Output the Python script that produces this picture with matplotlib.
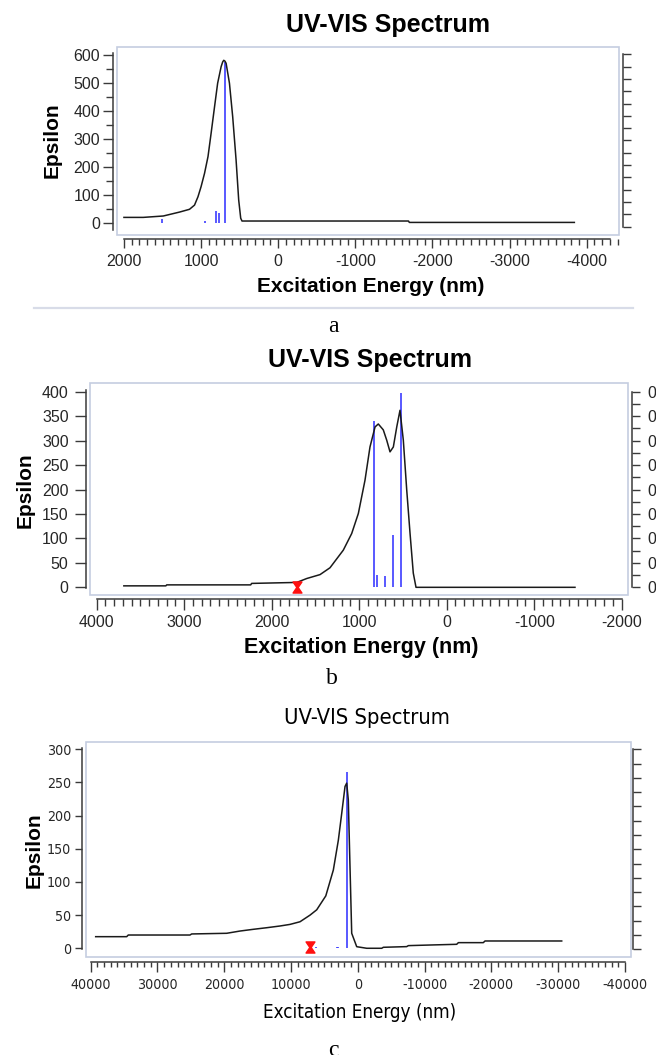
import matplotlib
matplotlib.use("Agg")
import matplotlib.pyplot as plt
import matplotlib.patches
import matplotlib.path
import matplotlib.lines
from matplotlib import font_manager
from matplotlib.ticker import MultipleLocator, NullFormatter, FormatStrFormatter, FixedLocator
import numpy as np

matplotlib.rcParams["axes.unicode_minus"] = False

# Panel a: simulated spectrum and stick transitions
a_nm = [2000, 1750, 1490, 1280, 1150, 1085, 1040, 1000, 955, 910, 870, 825,
        785, 740, 720, 706, 690, 675, 632, 590, 546, 512, 486, 469, -1690,
        -1700, -3840]
a_eps = [19, 19, 24, 38, 48, 63, 93, 129, 177, 237, 320, 416,
         500, 559, 576, 582, 579, 571, 500, 380, 225, 81, 16, 6, 6,
         1, 1]
a_stick_nm = [1505, 950, 804, 770, 692]
a_stick_eps = [15, 5, 42, 34, 577]

# Panel b
b_nm = [3690, 3210, 3200, 2240, 2230, 1714, 1600, 1448, 1334, 1296, 1182,
        1086, 1010, 934, 877, 819, 782, 725, 686, 648, 610, 571, 534, 496,
        457, 419, 382, 351, -1466]
b_eps = [3, 3, 5, 5, 8, 10, 18, 26, 40, 49, 76,
         110, 151, 219, 287, 328, 334, 322, 301, 277, 287, 328, 362, 301,
         199, 110, 29, 0, 0]
b_stick_nm = [827, 793, 705, 614, 522]
b_stick_eps = [341, 25, 23, 108, 398]
b_marker = (1714, 1)

# Panel c
c_nm = [39250, 34610, 34370, 25130, 24880, 19640, 17640, 15650, 13650,
        11660, 10160, 8660, 7160, 6160, 4800, 3670, 2920, 2420, 1920, 1670,
        1430, 1175, 920, 170, -1330, -3570, -3820, -7310, -7560, -11060,
        -14800, -15050, -18780, -19040, -30520]
c_eps = [17.5, 17.5, 20, 20, 21.6, 22.6, 26, 28.6, 31,
         33.6, 36, 40, 50, 58, 79, 118, 163, 203, 244, 249,
         224, 123, 22.6, 2.4, 0, 0, 1.5, 2.5, 4, 5,
         6, 8.5, 8.5, 11, 11]
c_stick_nm = [6270, 3070, 2920, 1670]
c_stick_eps = [1.5, 2, 2, 266]
c_marker = (7160, 1.7)

W, H = 656, 1055
BOX = "#c5cde0"
AXC = "#3a3a3a"
TXT = "#262626"
BLUE = "#3c3cff"
CURVE = "#1a1a1a"

# find a narrow face for panel c (Arial Narrow look-alike)
narrow_path = None
for key in ["LiberationSansNarrow-Regular", "DejaVuSansCondensed.ttf",
            "RobotoCondensed-Regular", "Narrow", "Condensed"]:
    for f in font_manager.fontManager.ttflist:
        fn = f.fname.split("/")[-1]
        if key in fn and "Bold" not in fn and "Italic" not in fn and "Oblique" not in fn:
            narrow_path = f.fname
            break
    if narrow_path:
        break
# DejaVu condensed is still wider than Arial Narrow, so shrink a little
NARROW_SCALE = 1.0 if (narrow_path and "Liberation" in narrow_path) else 0.9


def narrow(size):
    if narrow_path:
        return font_manager.FontProperties(fname=narrow_path, size=size * NARROW_SCALE)
    return font_manager.FontProperties(family="Liberation Sans", size=size * 0.8)


SANS = "Liberation Sans"
SERIF = "Liberation Serif"

# hourglass marker
hourglass = matplotlib.path.Path(
    [(-0.8, 1), (0.8, 1), (0.12, 0), (0.8, -1), (-0.8, -1), (-0.12, 0), (-0.8, 1)],
    [1, 2, 2, 2, 2, 2, 79])

fig = plt.figure(figsize=(W / 100, H / 100), dpi=100)


def px_axes(l, t, r, b):
    return fig.add_axes([l / W, 1 - b / H, (r - l) / W, (b - t) / H])


def fig_text(x, y, s, **kw):
    fig.text(x / W, 1 - y / H, s, ha="center", va="center", color="black", **kw)


def frame(ax, xlim, ylim, rlim, out, bounds):
    ax.set_xlim(*xlim)
    ax.set_ylim(*ylim)
    for side in ["top", "right"]:
        ax.spines[side].set_visible(False)
    ax.spines["left"].set_position(("outward", out[0]))
    ax.spines["bottom"].set_position(("outward", out[1]))
    ax.spines["left"].set_bounds(*bounds[0])
    ax.spines["bottom"].set_bounds(*bounds[1])
    for side in ["left", "bottom"]:
        ax.spines[side].set_color(AXC)
        ax.spines[side].set_linewidth(1.1)
    ax.add_patch(matplotlib.patches.Rectangle(
        (0, 0), 1, 1, transform=ax.transAxes, fill=False, ec=BOX, lw=1.2,
        clip_on=False, zorder=0.5))
    ax2 = ax.twinx()
    ax2.set_ylim(*rlim)
    for side in ["top", "left", "bottom"]:
        ax2.spines[side].set_visible(False)
    ax2.spines["right"].set_position(("outward", out[2]))
    ax2.spines["right"].set_bounds(*bounds[2])
    ax2.spines["right"].set_color(AXC)
    ax2.spines["right"].set_linewidth(1.1)
    return ax2


def draw(ax, nm, eps, snm, seps, marker=None):
    ax.vlines(snm, 0, seps, color=BLUE, lw=1.2, zorder=2)
    ax.plot(nm, eps, color=CURVE, lw=1.1, zorder=3)
    if marker is not None:
        ax.plot([marker[0]], [marker[1]], marker=hourglass, ms=8,
                color="#ff1010", ls="none", zorder=4)


# ---------------- panel a ----------------
ax = px_axes(117, 47, 619, 235)
ax2 = frame(ax, (2090, -4419), (-44.1, 629.7), (-0.0337, 0.7296),
            (2.9, 2.9, 2.9), ((-26, 607), (2000, -4300), (0, 0.7)))
draw(ax, a_nm, a_eps, a_stick_nm, a_stick_eps)
ax.xaxis.set_major_locator(MultipleLocator(1000))
ax.xaxis.set_minor_locator(MultipleLocator(100))
ax.yaxis.set_major_locator(FixedLocator([0, 100, 200, 300, 400, 500, 600]))
ax.yaxis.set_minor_locator(FixedLocator(np.arange(50, 600, 100)))
ax.tick_params(axis="y", which="major", length=7.2, width=1, color=AXC, pad=2,
               labelsize=11.5, labelcolor=TXT)
ax.tick_params(axis="y", which="minor", length=5, width=1, color=AXC)
ax.tick_params(axis="x", which="major", length=6.5, width=1, color=AXC, pad=4.5,
               labelsize=11.5, labelcolor=TXT)
ax.tick_params(axis="x", which="minor", length=4, width=1, color=AXC)
ax2.yaxis.set_major_locator(MultipleLocator(0.05))
ax2.yaxis.set_major_formatter(NullFormatter())
ax2.tick_params(axis="y", length=5.8, width=1, color=AXC)
for lab in ax.get_xticklabels() + ax.get_yticklabels():
    lab.set_fontfamily(SANS)
fig_text(388, 25, "UV-VIS Spectrum", fontsize=18, fontweight="bold", family=SANS)
fig_text(370.5, 287, "Excitation Energy (nm)", fontsize=15, fontweight="bold", family=SANS)
fig_text(52, 140, "Epsilon", fontsize=15, fontweight="bold", rotation=90, family=SANS)
fig.add_artist(matplotlib.lines.Line2D([34 / W, 633 / W], [1 - 308 / H] * 2,
                                       color="#d8dce8", lw=1.6))
fig_text(333, 326, "a", fontsize=17, family=SERIF)

# ---------------- panel b ----------------
ax = px_axes(90, 383.3, 628, 595)
ax2 = frame(ax, (4077, -2072), (-15.7, 417.2), (-15.7 / 500, 417.2 / 500),
            (2.9, 3.1, 3.1), ((-2, 403), (4000, -2000), (0, 0.8)))
draw(ax, b_nm, b_eps, b_stick_nm, b_stick_eps, b_marker)
ax.xaxis.set_major_locator(MultipleLocator(1000))
ax.xaxis.set_minor_locator(MultipleLocator(100))
ax.yaxis.set_major_locator(FixedLocator(np.arange(0, 401, 50)))
ax.tick_params(axis="y", which="major", length=8, width=1, color=AXC, pad=4.5,
               labelsize=11.5, labelcolor=TXT)
ax.tick_params(axis="x", which="major", length=7.7, width=1, color=AXC, pad=3.6,
               labelsize=11.5, labelcolor=TXT)
ax.tick_params(axis="x", which="minor", length=4.8, width=1, color=AXC)
ax2.yaxis.set_major_locator(MultipleLocator(0.1))
ax2.yaxis.set_minor_locator(MultipleLocator(0.05))
ax2.yaxis.set_major_formatter(FormatStrFormatter("%.1f"))
ax2.tick_params(axis="y", which="major", length=5.5, width=1, color=AXC, pad=5.5,
                labelsize=11.5, labelcolor=TXT)
ax2.tick_params(axis="y", which="minor", length=5.5, width=1, color=AXC)
for lab in ax.get_xticklabels() + ax.get_yticklabels() + ax2.get_yticklabels():
    lab.set_fontfamily(SANS)
fig_text(370, 360, "UV-VIS Spectrum", fontsize=18, fontweight="bold", family=SANS)
fig_text(361, 648, "Excitation Energy (nm)", fontsize=15.5, fontweight="bold", family=SANS)
fig_text(25, 490, "Epsilon", fontsize=15, fontweight="bold", rotation=90, family=SANS)
fig_text(332, 678, "b", fontsize=17, family=SERIF)

# ---------------- panel c ----------------
ax = px_axes(86, 741.7, 630.7, 957.3)
ax2 = frame(ax, (40700, -40850), (-13.6, 311.5), (-0.028, 0.7266),
            (2.7, 3.2, 1.9), ((-1.5, 301.5), (40000, -40000), (0, 0.7)))
draw(ax, c_nm, c_eps, c_stick_nm, c_stick_eps, c_marker)
ax.xaxis.set_major_locator(MultipleLocator(10000))
ax.xaxis.set_minor_locator(MultipleLocator(1000))
ax.yaxis.set_major_locator(FixedLocator(np.arange(0, 301, 50)))
ax.tick_params(axis="y", which="major", length=5, width=1, color=AXC, pad=3,
               labelcolor=TXT)
ax.tick_params(axis="x", which="major", length=7.2, width=1, color=AXC, pad=4.5,
               labelcolor=TXT)
ax.tick_params(axis="x", which="minor", length=3.6, width=1, color=AXC)
ax2.yaxis.set_major_locator(MultipleLocator(0.05))
ax2.yaxis.set_major_formatter(NullFormatter())
ax2.tick_params(axis="y", length=5.8, width=1, color=AXC)
for lab in ax.get_xticklabels() + ax.get_yticklabels():
    lab.set_fontproperties(narrow(11.3))
fig_text(367, 718, "UV-VIS Spectrum", fontproperties=narrow(17.5))
fig_text(359.5, 1013, "Excitation Energy (nm)", fontproperties=narrow(15))
fig_text(34.5, 850, "Epsilon", fontsize=15, fontweight="bold", rotation=90, family=SANS)
fig_text(333, 1050, "c", fontsize=17, family=SERIF)

fig.savefig("out.png", dpi=100)
